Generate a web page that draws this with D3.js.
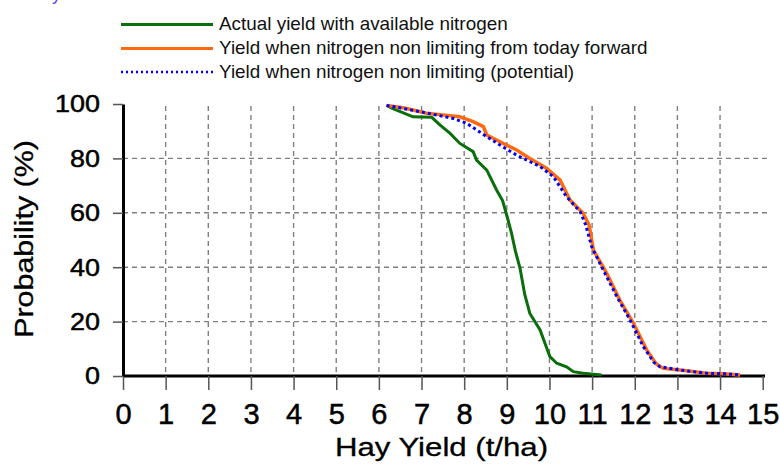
<!DOCTYPE html>
<html>
<head>
<meta charset="utf-8">
<script src="https://cdn.jsdelivr.net/npm/d3@7/dist/d3.min.js"></script>
<style>
  html, body { margin: 0; padding: 0; background: #fff; }
  svg { display: block; font-family: "Liberation Sans", Arial, sans-serif; }
</style>
</head>
<body>
<svg id="chart" width="780" height="464"></svg>
<script>
// ---- Data ----
const xTicks = [0,1,2,3,4,5,6,7,8,9,10,11,12,13,14,15];
const yTicks = [0,20,40,60,80,100];

const seriesNames = [
  "Actual yield with available nitrogen",
  "Yield when nitrogen non limiting from today forward",
  "Yield when nitrogen non limiting (potential)"
];

const actualYield = [6.18, 6.33, 6.8, 7.0, 7.24, 7.43, 7.67, 7.9, 8.21, 8.29, 8.53, 8.76, 8.9, 9.0, 9.11, 9.2, 9.31, 9.42, 9.54, 9.78, 10.01, 10.17, 10.4, 10.56, 10.79, 11.22];
const actualProb  = [99.5, 98.3, 95.3, 95.2, 95.1, 92.3, 89.2, 85.5, 82.5, 79.4, 75.7, 68.4, 64.5, 59, 52.5, 46, 39.6, 30, 23, 16.9, 7.1, 4.7, 3.4, 1.6, 1.0, 0.4];

const forwardYield = [6.18, 6.6, 7.12, 7.5, 7.9, 8.21, 8.45, 8.53, 8.92, 9.23, 9.54, 9.93, 10.25, 10.48, 10.79, 10.93, 11.03, 11.34, 11.65, 11.97, 12.28, 12.5, 12.67, 13.06, 13.69, 14.1, 14.47];
const forwardProb  = [99.5, 98.5, 96.6, 96.0, 95.3, 93.5, 91.7, 88.6, 85.5, 83.1, 80, 76.4, 72, 64.7, 59.8, 55.5, 46.3, 37.8, 27.9, 19.4, 9.6, 4.5, 2.8, 2.2, 1.0, 0.8, 0.4];

const potentialYield = [6.18, 6.96, 7.74, 8.06, 8.53, 8.84, 9.23, 9.78, 10.09, 10.4, 10.72, 10.85, 10.99, 11.26, 11.58, 11.89, 12.2, 12.45, 12.59, 13.06, 13.69, 14.1, 14.47];
const potentialProb  = [99.5, 97.2, 94.7, 92.9, 88.0, 84.9, 81.2, 77, 73.3, 65.9, 60.4, 55.5, 47.5, 39, 29.2, 20.6, 10.8, 5.0, 3.4, 2.2, 1.0, 0.8, 0.4];

const colors = ["#0a6e0a", "#ff6a10", "#0000ff"];

// ---- Drawing ----
const svg = d3.select("#chart");
const x = d3.scaleLinear().domain([0, 15]).range([123, 762.7]);
const y = d3.scaleLinear().domain([0, 100]).range([376, 104]);

// partial title fragment at top (cut off in reference)
svg.append("text").attr("x", 52).attr("y", 0).attr("font-size", 18)
  .attr("fill", "#6040f0").text("y");

// grid
const grid = svg.append("g").attr("stroke", "#808080").attr("stroke-width", 1.4)
  .attr("stroke-dasharray", "5,4").attr("fill", "none");
grid.selectAll("line.v").data(xTicks.filter(d => d > 0 && d < 15)).join("line")
  .attr("x1", d => x(d)).attr("x2", d => x(d))
  .attr("y1", y(100) + 2).attr("y2", y(0));
grid.selectAll("line.h").data(yTicks.filter(d => d > 0 && d < 100)).join("line")
  .attr("x1", x(0)).attr("x2", 768)
  .attr("y1", d => y(d)).attr("y2", d => y(d));

// axes
const xAxis = svg.append("g").attr("transform", `translate(0,${y(0)})`)
  .call(d3.axisBottom(x).tickValues(xTicks).tickFormat(d3.format("d"))
    .tickSize(14).tickSizeOuter(0).tickPadding(13));
xAxis.select(".domain").attr("stroke", "#000").attr("stroke-width", 3)
  .attr("d", `M${x(0)},0H765`);
xAxis.selectAll(".tick line").attr("stroke", "#555").attr("stroke-width", 1.5);
xAxis.selectAll(".tick text").attr("font-size", 29).attr("fill", "#000")
  .attr("stroke", "#000").attr("stroke-width", 0.5)
  .attr("font-family", "'Liberation Sans', Arial, sans-serif");

const yAxis = svg.append("g").attr("transform", `translate(${x(0)},0)`)
  .call(d3.axisLeft(y).tickValues(yTicks).tickFormat(d3.format("d"))
    .tickSize(10).tickSizeOuter(0).tickPadding(10.9));
yAxis.select(".domain").attr("stroke", "#000").attr("stroke-width", 3);
yAxis.selectAll(".tick line").attr("stroke", "#555").attr("stroke-width", 1.5);
yAxis.selectAll(".tick text").attr("font-size", 24.5).attr("fill", "#000")
  .attr("stroke", "#000").attr("stroke-width", 0.5)
  .attr("font-family", "'Liberation Sans', Arial, sans-serif")
  .attr("transform", "scale(1.1,1)");

// axis titles
svg.append("text")
  .attr("transform", `translate(441.5,456) scale(1.2,1)`)
  .attr("text-anchor", "middle").attr("font-size", 26).attr("fill", "#000")
  .attr("stroke", "#000").attr("stroke-width", 0.3)
  .text("Hay Yield (t/ha)");
svg.append("text")
  .attr("transform", `translate(33,239) rotate(-90) scale(1.17,1)`)
  .attr("text-anchor", "middle").attr("font-size", 26).attr("fill", "#000")
  .attr("stroke", "#000").attr("stroke-width", 0.3)
  .text("Probability (%)");

// lines
const line = d3.line().x(d => x(d[0])).y(d => y(d[1]));
const data = [
  d3.zip(actualYield, actualProb),
  d3.zip(forwardYield, forwardProb),
  d3.zip(potentialYield, potentialProb)
];
svg.append("path").datum(data[0]).attr("d", line).attr("fill", "none")
  .attr("stroke", colors[0]).attr("stroke-width", 3);
svg.append("path").datum(data[1]).attr("d", line).attr("fill", "none")
  .attr("stroke", colors[1]).attr("stroke-width", 3.5);
svg.append("path").datum(data[2]).attr("d", line).attr("fill", "none")
  .attr("stroke", colors[2]).attr("stroke-width", 3).attr("stroke-dasharray", "3,3");

// legend
const legY = [24.5, 48.5, 72];
const leg = svg.append("g");
seriesNames.forEach((name, i) => {
  const l = leg.append("line").attr("x1", 121).attr("x2", 213)
    .attr("y1", legY[i]).attr("y2", legY[i])
    .attr("stroke", colors[i]).attr("stroke-width", i === 2 ? 2.5 : 3);
  if (i === 2) l.attr("stroke-dasharray", "2,3");
  leg.append("text").attr("transform", `translate(219,${legY[i] + 5.5}) scale(1.05,1)`)
    .attr("font-size", 18).attr("fill", "#111").text(name);
});
</script>
</body>
</html>
